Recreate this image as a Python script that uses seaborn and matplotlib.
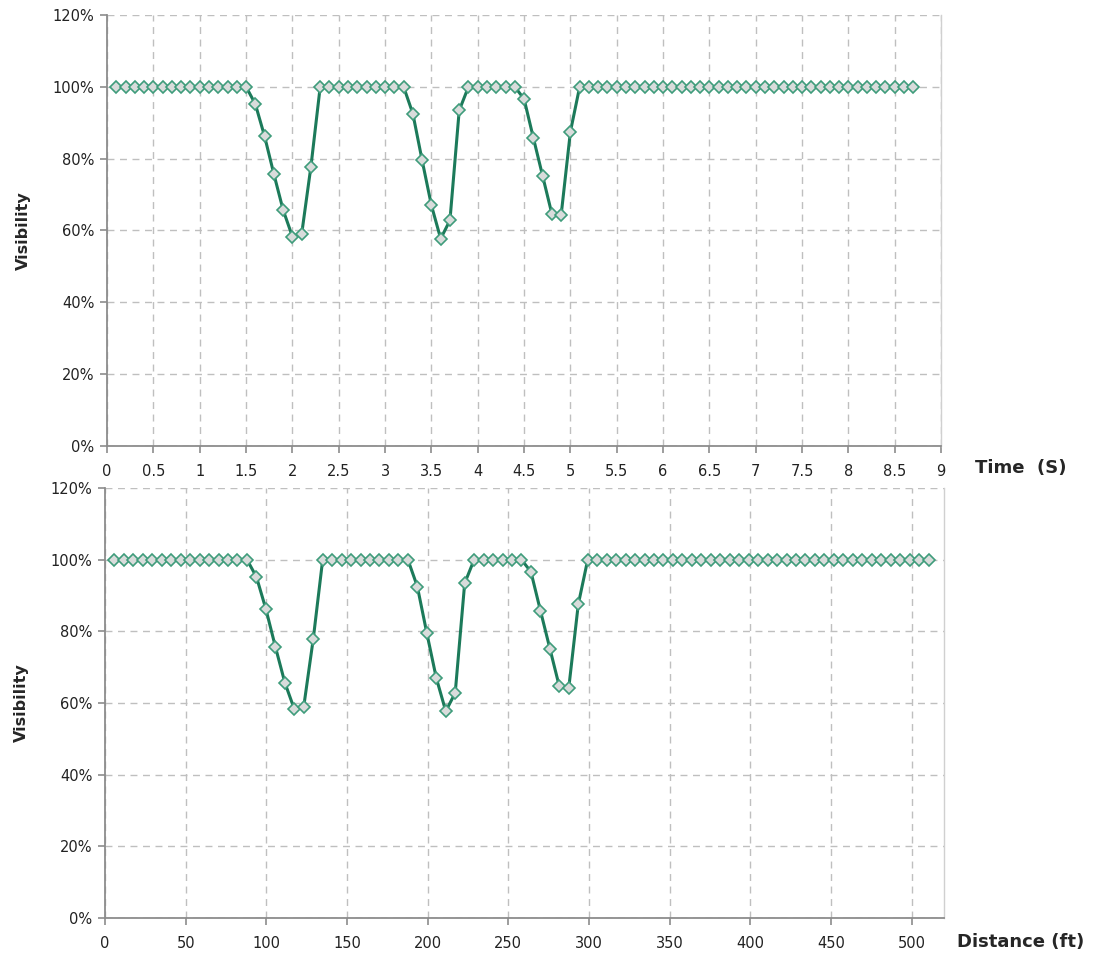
"""Visibility vs time and distance, two stacked panels in an Excel-like style."""

import numpy as np
import pandas as pd
import matplotlib
matplotlib.use("Agg")
import matplotlib.pyplot as plt
from matplotlib.ticker import PercentFormatter, MultipleLocator, FuncFormatter
import seaborn as sns

# sample every 0.1 s, 87 samples (0.1 .. 8.7 s)
time_s = np.round(np.arange(1, 88) * 0.1, 1)

# vehicle speed used for the distance axis (40 mph in ft/s)
speed_fts = 58.67

# visibility in %, one value per sample
visibility = (
    [100] * 15
    + [95.2, 86.2, 75.7, 65.7, 58.3, 59.0, 77.8]          # 1.6 .. 2.2 s
    + [100] * 10                                          # 2.3 .. 3.2 s
    + [92.5, 79.5, 67.0, 57.7, 62.8, 93.4]                # 3.3 .. 3.8 s
    + [100] * 6                                           # 3.9 .. 4.4 s
    + [96.6, 85.8, 75.2, 64.6, 64.3, 87.5]                # 4.5 .. 5.0 s
    + [100] * 37                                          # 5.1 .. 8.7 s
)

df = pd.DataFrame({"time": time_s, "visibility": visibility})
df["distance"] = df["time"] * speed_fts

sns.set_theme(style="white")
plt.rcParams["font.family"] = ["DejaVu Sans"]

LINE = "#1c7a5a"
EDGE = "#3f9c7b"
FACE = "#d9dcdb"
GRID = "#bfbfbf"
AXIS = "#8c8c8c"

fig = plt.figure(figsize=(10.98, 9.57), dpi=100)
ax_top = fig.add_axes([0.0975, 0.534, 0.7596, 0.4504])
ax_bot = fig.add_axes([0.0956, 0.0408, 0.7641, 0.4493])


def style_axis(ax, xmax, xstep):
    ax.set_xlim(0, xmax)
    ax.set_ylim(0, 120)
    ax.xaxis.set_major_locator(MultipleLocator(xstep))
    ax.xaxis.set_major_formatter(FuncFormatter(lambda v, _: f"{v:g}"))
    ax.yaxis.set_major_locator(MultipleLocator(20))
    ax.yaxis.set_major_formatter(PercentFormatter(decimals=0))
    ax.grid(True, color=GRID, linestyle=(0, (5, 4)), linewidth=1)
    ax.set_axisbelow(True)
    for side in ["left", "bottom"]:
        ax.spines[side].set_color(AXIS)
        ax.spines[side].set_linewidth(1.3)
    ax.spines["right"].set_color("#d0d0d0")
    ax.spines["right"].set_linewidth(1)
    ax.spines["top"].set_visible(False)
    ax.tick_params(axis="both", direction="out", length=5, width=1.2,
                   color=AXIS, labelsize=10.5, labelcolor="#222222", pad=4,
                   bottom=True, left=True)
    ax.tick_params(axis="x", pad=8)
    ax.set_ylabel("Visibility", fontsize=11.5, fontweight="bold", labelpad=16)
    ax.set_xlabel("")


sns.lineplot(data=df, x="time", y="visibility", ax=ax_top, color=LINE,
             linewidth=2.2, marker="D", markersize=6, markerfacecolor=FACE,
             markeredgecolor=EDGE, markeredgewidth=1.2)
style_axis(ax_top, 9, 0.5)
fig.text(0.888, 0.511, "Time  (S)", fontsize=13, fontweight="bold",
         ha="left", va="center")

sns.lineplot(data=df, x="distance", y="visibility", ax=ax_bot, color=LINE,
             linewidth=2.2, marker="D", markersize=6, markerfacecolor=FACE,
             markeredgecolor=EDGE, markeredgewidth=1.2)
style_axis(ax_bot, 520, 50)
fig.text(0.872, 0.0155, "Distance (ft)", fontsize=13, fontweight="bold",
         ha="left", va="center")

fig.savefig("out.png", dpi=100)
plt.close(fig)
